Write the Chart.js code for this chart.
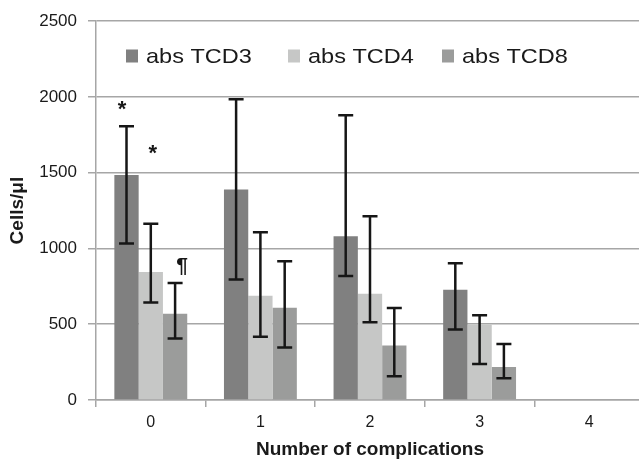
<!DOCTYPE html>
<html>
<head>
<meta charset="utf-8">
<script src="https://cdn.jsdelivr.net/npm/chart.js@4"></script>
<style>
html,body{margin:0;padding:0;background:#fff;overflow:hidden;}
#wrap{width:639px;height:461px;overflow:hidden;position:relative;}
canvas{display:block;}
</style>
</head>
<body>
<div id="wrap"><canvas id="c" width="650" height="461"></canvas></div>
<script>
// ---- data ----
const categories = ['0', '1', '2', '3', '4'];
const seriesLabels = ['abs TCD3', 'abs TCD4', 'abs TCD8'];
const tcd3   = [1485, 1389, 1081, 727, null];
const tcd3Hi = [1807, 1985, 1879, 902, null];
const tcd3Lo = [1033,  795,  819, 465, null];
const tcd4   = [ 845,  688,  701, 498, null];
const tcd4Hi = [1164, 1107, 1212, 559, null];
const tcd4Lo = [ 644,  417,  513, 238, null];
const tcd8   = [ 570,  609,  360, 218, null];
const tcd8Hi = [ 773,  915,  607, 369, null];
const tcd8Lo = [ 406,  347,  157, 144, null];
// significance marks: series index, category index, symbol, anchor value
const markSeries = [0, 1, 2];
const markCat    = [0, 0, 0];
const markText   = ['*', '*', '¶'];
const markValue  = [1913, 1625, 885];
const yTicks = [0, 500, 1000, 1500, 2000, 2500];

const FONT = '"Liberation Sans", Arial, Helvetica, sans-serif';
const colors = ['#808080', '#c6c7c6', '#9b9c9b'];
const hiArr = [tcd3Hi, tcd4Hi, tcd8Hi];
const loArr = [tcd3Lo, tcd4Lo, tcd8Lo];

const errorBars = {
  id: 'errorBars',
  afterDatasetsDraw(chart) {
    const ctx = chart.ctx, ys = chart.scales.y;
    ctx.save();
    ctx.strokeStyle = '#161616';
    ctx.lineWidth = 2.5;
    ctx.lineCap = 'butt';
    chart.data.datasets.forEach((ds, i) => {
      const meta = chart.getDatasetMeta(i);
      meta.data.forEach((el, j) => {
        const hi = hiArr[i][j], lo = loArr[i][j];
        if (hi == null || lo == null) return;
        const x = el.x;
        const yh = ys.getPixelForValue(hi), yl = ys.getPixelForValue(lo);
        const hw = 7.5;
        ctx.beginPath();
        ctx.moveTo(x, yh); ctx.lineTo(x, yl);
        ctx.moveTo(x - hw, yh); ctx.lineTo(x + hw, yh);
        ctx.moveTo(x - hw, yl); ctx.lineTo(x + hw, yl);
        ctx.stroke();
      });
    });
    ctx.restore();
  }
};

const marks = {
  id: 'marks',
  afterDatasetsDraw(chart, args, opts) {
    const ctx = chart.ctx, ys = chart.scales.y;
    ctx.save();
    ctx.fillStyle = '#161616';
    ctx.textAlign = 'center';
    ctx.textBaseline = 'middle';
    markText.forEach((t, k) => {
      const el = chart.getDatasetMeta(markSeries[k]).data[markCat[k]];
      ctx.font = opts.fonts[k];
      ctx.fillText(t, el.x + opts.dx[k], ys.getPixelForValue(markValue[k]));
    });
    ctx.restore();
  }
};

const insideLegend = {
  id: 'insideLegend',
  afterDraw(chart, args, opts) {
    const ctx = chart.ctx;
    ctx.save();
    ctx.textBaseline = 'middle';
    ctx.textAlign = 'left';
    ctx.font = opts.font;
    chart.data.datasets.forEach((ds, i) => {
      const x = opts.x[i], y = opts.y;
      ctx.fillStyle = ds.backgroundColor;
      ctx.fillRect(x, y - 6.5, 12, 13);
      ctx.save();
      ctx.translate(x + 20, y + 1);
      ctx.scale(opts.stretch, 1);
      ctx.fillStyle = '#1a1a1a';
      ctx.fillText(ds.label, 0, 0);
      ctx.restore();
    });
    ctx.restore();
  }
};

new Chart(document.getElementById('c'), {
  type: 'bar',
  data: {
    labels: categories,
    datasets: [
      { label: seriesLabels[0], data: tcd3, backgroundColor: colors[0] },
      { label: seriesLabels[1], data: tcd4, backgroundColor: colors[1] },
      { label: seriesLabels[2], data: tcd8, backgroundColor: colors[2] }
    ]
  },
  options: {
    responsive: false,
    animation: false,
    devicePixelRatio: 1,
    layout: { padding: { top: 17, right: 6, bottom: 0, left: 0 } },
    datasets: { bar: { categoryPercentage: 0.665, barPercentage: 1.0, borderWidth: 0 } },
    plugins: {
      legend: { display: false },
      tooltip: { enabled: false },
      insideLegend: { x: [126, 288, 442], y: 56, font: '21px ' + FONT, stretch: 1.12 },
      marks: { dx: [-4.5, 2, 7], fonts: ['bold 22px ' + FONT, 'bold 22px ' + FONT, 'bold 21px ' + FONT] }
    },
    scales: {
      x: {
        grid: { display: true, drawOnChartArea: false, drawTicks: true, tickLength: 7, color: '#a6a6a6', lineWidth: 1.5, offset: true },
        border: { display: true, color: '#a6a6a6', width: 1.5 },
        ticks: { padding: 6, color: '#1a1a1a', font: { family: FONT, size: 16 } },
        title: { display: true, text: 'Number of complications', color: '#1a1a1a',
                 font: { family: FONT, size: 19, weight: 'bold' }, padding: { top: 4, bottom: 0 } },
        afterFit(s) { s.height = 61; }
      },
      y: {
        min: 0, max: 2500,
        afterBuildTicks(s) { s.ticks = yTicks.map(v => ({ value: v })); },
        grid: { color: '#a6a6a6', lineWidth: 1.5, tickLength: 8, drawTicks: true },
        border: { display: true, color: '#a6a6a6', width: 1.5 },
        ticks: { padding: 11, color: '#1a1a1a', font: { family: FONT, size: 17 }, callback: v => String(v) },
        title: { display: true, text: 'Cells/μl', color: '#1a1a1a',
                 font: { family: FONT, size: 19, weight: 'bold' }, padding: { top: 6, bottom: 0 } },
        afterFit(s) { s.width = 96; }
      }
    }
  },
  plugins: [errorBars, marks, insideLegend]
});
</script>
</body>
</html>
